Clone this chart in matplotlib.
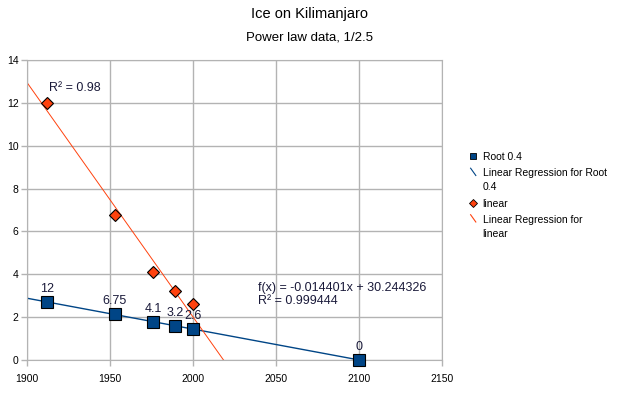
import numpy as np
import matplotlib
matplotlib.use("Agg")
import matplotlib.pyplot as plt
from matplotlib.lines import Line2D
from matplotlib.legend_handler import HandlerLine2D

plt.rcParams['font.family'] = ['Liberation Sans', 'DejaVu Sans']

# Data
years_root = [1912, 1953, 1976, 1989, 2000, 2100]
ice_raw = [12, 6.75, 4.1, 3.2, 2.6, 0]
labels_root = ["12", "6.75", "4.1", "3.2", "2.6", "0"]
root_values = [v ** 0.4 for v in ice_raw]

years_lin = [1912, 1953, 1976, 1989, 2000]
lin_values = [12, 6.75, 4.1, 3.2, 2.6]

BLUE = '#004586'
ORANGE = '#ff420e'
GRID = '#b3b3b3'

fig = plt.figure(figsize=(6.19, 3.95), dpi=100)
ax = fig.add_axes([27 / 619, 35 / 395, 415 / 619, 300 / 395])

ax.set_xlim(1900, 2150)
ax.set_ylim(0, 14)
ax.set_xticks([1900, 1950, 2000, 2050, 2100, 2150])
ax.set_yticks(range(0, 15, 2))
ax.grid(True, color=GRID, linewidth=1)
ax.set_axisbelow(True)
for s in ax.spines.values():
    s.set_color(GRID)
ax.tick_params(axis='both', color=GRID, length=4, width=1, labelsize=7.5,
               labelcolor='black', direction='out', pad=2)
ax.tick_params(axis='x', pad=6)

# Regression lines
xr = np.array([1900, 2150])
p_root = np.polyfit(years_root, root_values, 1)
p_lin = np.polyfit(years_lin, lin_values, 1)
ax.plot(xr, np.polyval(p_root, xr), color=BLUE, lw=1, zorder=2, clip_on=True)
ax.plot(xr, np.polyval(p_lin, xr), color=ORANGE, lw=0.7, zorder=2, clip_on=True)

# Points
ax.plot(years_root, root_values, 's', color=BLUE, markersize=8.5,
        markeredgecolor='black', markeredgewidth=0.8, zorder=4, clip_on=False)
ax.plot(years_lin, lin_values, 'D', color=ORANGE, markersize=6.5,
        markeredgecolor='black', markeredgewidth=0.8, zorder=3, clip_on=False)

for x, y, t in zip(years_root, root_values, labels_root):
    ax.annotate(t, (x, y), xytext=(0, 5), textcoords='offset points',
                ha='center', va='bottom', fontsize=9, color='#1a1a3a', zorder=5)

# Regression equations
r2_lin = np.corrcoef(years_lin, lin_values)[0, 1] ** 2
r2_root = np.corrcoef(years_root, root_values)[0, 1] ** 2
ax.text(1913, 12.4, "R² = %.2f" % r2_lin, fontsize=9, color='#1a1a3a', va='bottom')
ax.text(2039, 2.45, "f(x) = %.6fx + %.6f\nR² = %.6f" % (p_root[0], p_root[1], r2_root),
        fontsize=9, color='#1a1a3a', va='bottom', linespacing=1.2)

# Titles
fig.text(0.5, 1 - 14 / 395, "Ice on Kilimanjaro", ha='center', va='center', fontsize=10.5)
fig.text(0.5, 1 - 38 / 395, "Power law data, 1/2.5", ha='center', va='center', fontsize=9.5)


class DiagHandler(HandlerLine2D):
    def create_artists(self, legend, orig_handle, xdescent, ydescent,
                       width, height, fontsize, trans):
        line = Line2D([width * 0.25, width * 0.75], [height * 2.2, height * 1.2],
                      color=orig_handle.get_color(), lw=0.8)
        line.set_transform(trans)
        return [line]


handles = [
    Line2D([], [], marker='s', color=BLUE, ls='none', markersize=5,
           markeredgecolor='black', markeredgewidth=0.6),
    Line2D([], [], color=BLUE),
    Line2D([], [], marker='D', color=ORANGE, ls='none', markersize=4,
           markeredgecolor='black', markeredgewidth=0.6),
    Line2D([], [], color=ORANGE),
]
labels = ["Root 0.4", "Linear Regression for Root\n0.4", "linear",
          "Linear Regression for\nlinear"]
leg = fig.legend(handles, labels, loc='upper left',
                 bbox_to_anchor=(468 / 619, 1 - 152 / 395),
                 frameon=False, fontsize=7.5, handlelength=1.0,
                 handletextpad=0.4, labelspacing=0.6, borderaxespad=0,
                 borderpad=0,
                 handler_map={handles[1]: DiagHandler(), handles[3]: DiagHandler()})
for t in leg.get_texts():
    t.set_linespacing(1.5)

fig.savefig("out.png", dpi=100)
